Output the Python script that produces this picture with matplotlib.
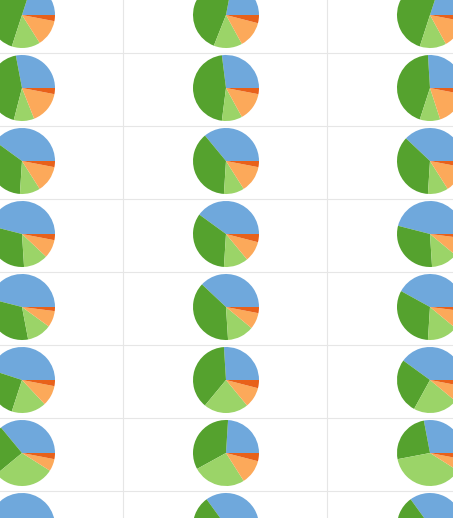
import matplotlib
matplotlib.use("Agg")
import matplotlib.pyplot as plt

labels = ["A", "B", "C", "D", "E"]
colors = ["#6fa8dc", "#55a22e", "#9bd468", "#fca95a", "#e8611a"]
# rows x columns, each: blue, green, light green, orange, red
pies = [
    [[0.20, 0.50, 0.14, 0.13, 0.03], [0.22, 0.47, 0.14, 0.13, 0.04], [0.20, 0.50, 0.13, 0.14, 0.03]],
    [[0.28, 0.43, 0.10, 0.16, 0.03], [0.27, 0.46, 0.10, 0.14, 0.03], [0.26, 0.44, 0.10, 0.17, 0.03]],
    [[0.40, 0.34, 0.10, 0.13, 0.03], [0.36, 0.38, 0.10, 0.13, 0.03], [0.38, 0.36, 0.10, 0.13, 0.03]],
    [[0.46, 0.30, 0.12, 0.09, 0.03], [0.40, 0.34, 0.12, 0.10, 0.04], [0.46, 0.30, 0.13, 0.09, 0.02]],
    [[0.46, 0.32, 0.12, 0.08, 0.02], [0.38, 0.38, 0.13, 0.08, 0.03], [0.42, 0.32, 0.15, 0.09, 0.02]],
    [[0.45, 0.25, 0.17, 0.10, 0.03], [0.26, 0.38, 0.22, 0.10, 0.04], [0.40, 0.27, 0.22, 0.08, 0.03]],
    [[0.36, 0.25, 0.30, 0.06, 0.03], [0.24, 0.34, 0.26, 0.12, 0.04], [0.28, 0.25, 0.38, 0.06, 0.03]],
    [[0.45, 0.30, 0.15, 0.07, 0.03], [0.35, 0.38, 0.15, 0.09, 0.03], [0.35, 0.35, 0.18, 0.09, 0.03]],
]

W, H = 453, 518
fig = plt.figure(figsize=(W / 100, H / 100), dpi=100)
ax = fig.add_axes([0, 0, 1, 1])

for x in [123, 327]:
    ax.axvline(x, color="#e6e6e6", lw=0.8)
for y in [53, 126, 199, 272, 345, 418, 491]:
    ax.axhline(y, color="#e6e6e6", lw=0.8)

xs = [22, 226, 430]
for r, row in enumerate(pies):
    cy = 15 + 73 * r
    for c, vals in enumerate(row):
        ax.pie(vals, colors=colors, center=(xs[c], cy), radius=33,
               startangle=0, counterclock=False, frame=True,
               wedgeprops=dict(linewidth=0))

ax.set_aspect("equal")
ax.set_xlim(0, W)
ax.set_ylim(H, 0)
ax.axis("off")
fig.savefig("out.png", dpi=100)
